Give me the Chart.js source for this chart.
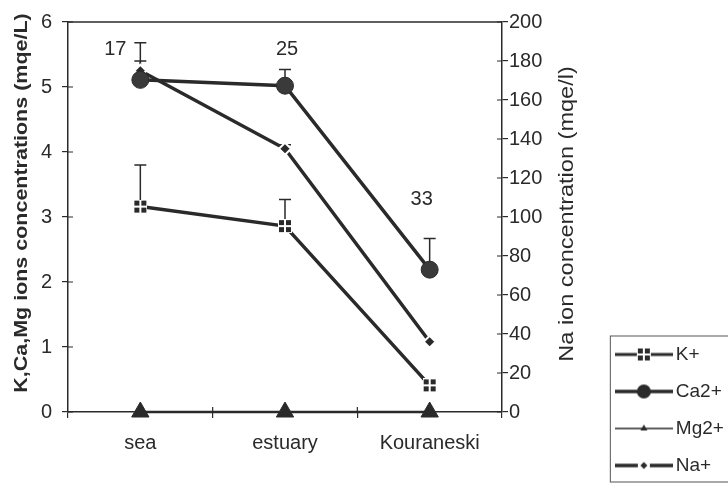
<!DOCTYPE html>
<html>
<head>
<meta charset="utf-8">
<script src="https://cdn.jsdelivr.net/npm/chart.js@4"></script>
<style>
  html, body { margin: 0; padding: 0; background: #fff; }
  #wrap { width: 728px; height: 484px; }
</style>
</head>
<body>
<div id="wrap"><canvas id="chart"></canvas></div>
<script>
const sites = ['sea', 'estuary', 'Kouraneski'];
const potassium = [3.16, 2.86, 0.41];
const calcium = [5.11, 5.02, 2.19];
const magnesium = [0, 0, 0];
const sodium = [175, 135, 36];
// upper end of the error whiskers
const potassiumTop = [3.80, 3.27, null];
const calciumTop = [5.68, 5.27, 2.67];
const sodiumTop = [180, 137, null];
// sample counts written above each site
const sampleCounts = ['17', '25', '33'];
const countLevel = [5.58, 5.58, 3.27];

const INK = '#2a2a2a';
const FONT = "'Liberation Sans', Arial, sans-serif";
const PAD_RIGHT = 4;
const PAD_BOTTOM = -9;

function potassiumMarker() {
  const c = document.createElement('canvas');
  c.width = 14; c.height = 14;
  const g = c.getContext('2d');
  g.fillStyle = '#fff';
  g.fillRect(0, 0, 14, 14);
  g.fillStyle = INK;
  [[1, 1], [8, 1], [1, 8], [8, 8]].forEach(([x, y]) => g.fillRect(x, y, 5, 5));
  return c;
}

function legendSymbol(kind, lineWidth) {
  const c = document.createElement('canvas');
  c.width = 58; c.height = 20;
  const g = c.getContext('2d');
  g.strokeStyle = INK;
  g.lineWidth = lineWidth;
  g.beginPath();
  g.moveTo(0, 10);
  g.lineTo(58, 10);
  g.stroke();
  g.fillStyle = INK;
  if (kind === 'square') {
    g.drawImage(potassiumMarker(), 22, 3);
  } else if (kind === 'circle') {
    g.beginPath();
    g.arc(29, 10, 7, 0, Math.PI * 2);
    g.fill();
  } else if (kind === 'triangle') {
    g.beginPath();
    g.moveTo(29, 6);
    g.lineTo(32.5, 12);
    g.lineTo(25.5, 12);
    g.closePath();
    g.fill();
  } else {
    g.fillStyle = '#fff';
    g.fillRect(23, 6, 12, 8);
    g.fillStyle = INK;
    g.beginPath();
    g.moveTo(29, 6.5);
    g.lineTo(32.5, 10);
    g.lineTo(29, 13.5);
    g.lineTo(25.5, 10);
    g.closePath();
    g.fill();
  }
  return c;
}

const legendSymbols = [
  legendSymbol('square', 3),
  legendSymbol('circle', 3.5),
  legendSymbol('triangle', 1.5),
  legendSymbol('diamond', 3.5),
];

const whiskers = {
  id: 'whiskers',
  beforeDatasetsDraw(chart) {
    const {ctx} = chart;
    const x = chart.scales.x;
    const sets = [
      [potassium, potassiumTop, chart.scales.y],
      [calcium, calciumTop, chart.scales.y],
      [sodium, sodiumTop, chart.scales.y1],
    ];
    ctx.save();
    ctx.strokeStyle = INK;
    ctx.lineWidth = 1.5;
    sets.forEach(([values, tops, scale]) => {
      values.forEach((v, i) => {
        if (tops[i] == null) return;
        const px = x.getPixelForValue(i);
        const y0 = scale.getPixelForValue(v);
        const y1 = scale.getPixelForValue(tops[i]);
        ctx.beginPath();
        ctx.moveTo(px, y0);
        ctx.lineTo(px, y1);
        ctx.moveTo(px - 6, y1);
        ctx.lineTo(px + 6, y1);
        ctx.stroke();
      });
    });
    ctx.restore();
  },
};

function drawTurned(ctx, text, x, y, font, stretch) {
  ctx.save();
  ctx.translate(x, y);
  ctx.rotate(-Math.PI / 2);
  ctx.scale(stretch, 1);
  ctx.font = font;
  ctx.fillStyle = INK;
  ctx.textAlign = 'center';
  ctx.textBaseline = 'middle';
  ctx.fillText(text, 0, 0);
  ctx.restore();
}

const decorations = {
  id: 'decorations',
  afterDraw(chart) {
    const {ctx, chartArea} = chart;
    const {x, y, y1} = chart.scales;
    ctx.save();
    ctx.strokeStyle = INK;
    ctx.lineWidth = 1.5;
    // frame top
    ctx.beginPath();
    ctx.moveTo(chartArea.left, chartArea.top);
    ctx.lineTo(chartArea.right, chartArea.top);
    ctx.stroke();
    // inner halves of the tick marks
    ctx.lineWidth = 1.2;
    ctx.beginPath();
    y.ticks.forEach(t => {
      const py = y.getPixelForValue(t.value);
      ctx.moveTo(chartArea.left, py);
      ctx.lineTo(chartArea.left + 5, py);
    });
    y1.ticks.forEach(t => {
      const py = y1.getPixelForValue(t.value);
      ctx.moveTo(chartArea.right, py);
      ctx.lineTo(chartArea.right - 5, py);
    });
    for (let i = 1; i < sites.length; i++) {
      const px = (x.getPixelForValue(i - 1) + x.getPixelForValue(i)) / 2;
      ctx.moveTo(px, chartArea.bottom);
      ctx.lineTo(px, chartArea.bottom - 5);
    }
    ctx.stroke();

    // sample counts
    const shift = [-25, 2, -8];
    ctx.font = '20px ' + FONT;
    ctx.fillStyle = INK;
    ctx.textAlign = 'center';
    ctx.textBaseline = 'middle';
    sampleCounts.forEach((n, i) => {
      ctx.fillText(n, x.getPixelForValue(i) + shift[i], y.getPixelForValue(countLevel[i]));
    });

    // axis titles
    drawTurned(ctx, 'K,Ca,Mg ions concentrations (mqe/L)', 22, 203, 'bold 19px ' + FONT, 1.13);
    drawTurned(ctx, 'Na ion concentration (mqe/l)', 567, 214, '21px ' + FONT, 1.12);

    // legend frame
    const lg = chart.legend;
    if (lg && lg.legendHitBoxes && lg.legendHitBoxes.length) {
      const top = lg.legendHitBoxes[0].top - 9;
      ctx.lineWidth = 1;
      ctx.strokeStyle = '#555';
      ctx.strokeRect(lg.left + 7, top, 200, 482 - top);
    }
    ctx.restore();
  },
};

const tickStyle = {
  drawOnChartArea: false,
  drawTicks: true,
  tickLength: 6,
  color: INK,
  lineWidth: 1.2,
};

new Chart(document.getElementById('chart'), {
  type: 'line',
  data: {
    labels: sites,
    datasets: [
      {
        label: 'K+',
        data: potassium,
        yAxisID: 'y',
        clip: false,
        borderColor: INK,
        borderWidth: 3.5,
        pointStyle: potassiumMarker(),
        pointRadius: 7,
      },
      {
        label: 'Ca2+',
        data: calcium,
        yAxisID: 'y',
        clip: false,
        borderColor: INK,
        borderWidth: 3.5,
        pointStyle: 'circle',
        pointRadius: 8.5,
        pointBackgroundColor: '#3a3a3a',
        pointBorderColor: INK,
        pointBorderWidth: 1,
      },
      {
        label: 'Mg2+',
        data: magnesium,
        yAxisID: 'y',
        clip: false,
        borderColor: INK,
        borderWidth: 2.5,
        pointStyle: 'triangle',
        pointRadius: 10,
        pointBackgroundColor: INK,
        pointBorderColor: INK,
        pointBorderWidth: 1,
      },
      {
        label: 'Na+',
        data: sodium,
        yAxisID: 'y1',
        clip: false,
        borderColor: INK,
        borderWidth: 3.5,
        pointStyle: 'rectRot',
        pointRadius: 6,
        pointBackgroundColor: INK,
        pointBorderColor: '#fff',
        pointBorderWidth: 2,
      },
    ],
  },
  options: {
    responsive: true,
    maintainAspectRatio: false,
    animation: false,
    layout: {
      padding: {top: 17, left: 0, right: PAD_RIGHT, bottom: PAD_BOTTOM},
    },
    scales: {
      x: {
        offset: true,
        grid: {...tickStyle, offset: true},
        border: {color: INK, width: 1.5},
        ticks: {color: INK, font: {family: FONT, size: 20}, padding: 13, maxRotation: 0},
        afterFit(scale) {
          scale.height = 80 + PAD_BOTTOM + 10;
        },
      },
      y: {
        position: 'left',
        min: 0,
        max: 6,
        grid: tickStyle,
        border: {color: INK, width: 1.5},
        ticks: {stepSize: 1, color: INK, font: {family: FONT, size: 20}, padding: 10},
        afterFit(scale) {
          scale.width = 68;
        },
      },
      y1: {
        position: 'right',
        min: 0,
        max: 200,
        grid: tickStyle,
        border: {color: INK, width: 1.5},
        ticks: {stepSize: 20, color: INK, font: {family: FONT, size: 20}, padding: 1},
        afterFit(scale) {
          const chart = scale.chart;
          const lw = chart.legend ? chart.legend.width : 130;
          scale.width = chart.width - PAD_RIGHT - lw - 502;
        },
      },
    },
    plugins: {
      legend: {
        position: 'right',
        align: 'end',
        labels: {
          usePointStyle: true,
          pointStyleWidth: 45,
          padding: 18,
          color: INK,
          font: {family: FONT, size: 19},
          generateLabels(chart) {
            return Chart.defaults.plugins.legend.labels.generateLabels(chart)
              .map((item, i) => ({...item, pointStyle: legendSymbols[i], rotation: 0}));
          },
        },
      },
      tooltip: {enabled: false},
    },
  },
  plugins: [whiskers, decorations],
});
</script>
</body>
</html>
